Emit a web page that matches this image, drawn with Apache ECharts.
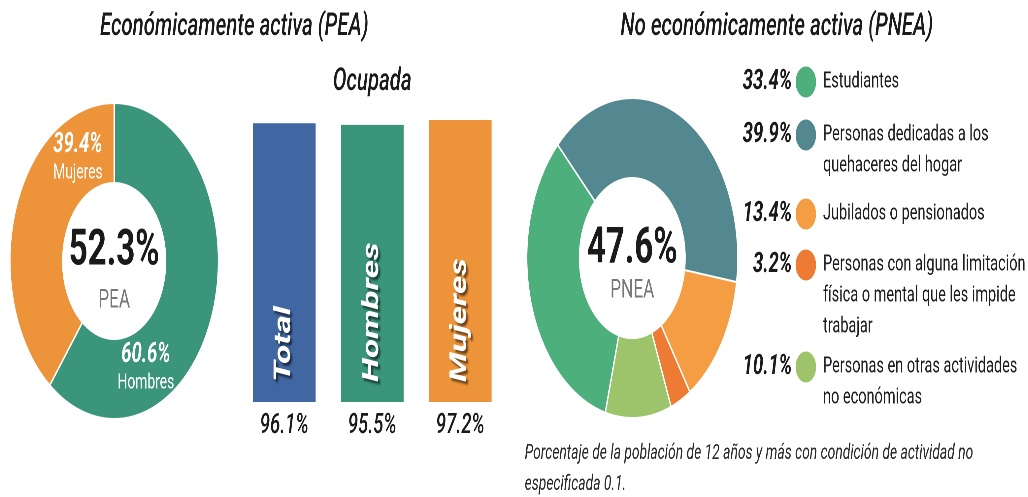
<!DOCTYPE html>
<html>
<head>
<meta charset="utf-8">
<script src="https://cdn.jsdelivr.net/npm/echarts@6/dist/echarts.min.js"></script>
<style>
  html, body { margin: 0; padding: 0; background: #fff; }
  #wrap { width: 1028px; height: 497px; overflow: hidden; }
  /* the original uses a condensed face, so the whole chart is drawn wide and squeezed */
  #chart { width: 1558px; height: 497px; transform: scaleX(0.66); transform-origin: 0 0; }
</style>
</head>
<body>
<div id="wrap"><div id="chart"></div></div>
<script>
// PEA donut
const peaTotal = 52.3;
const peaNames = ["Hombres", "Mujeres"];
const peaValues = [60.6, 39.4];
const peaColors = ["#3b957b", "#ed943a"];

// Ocupada bars
const ocupadaCats = ["Total", "Hombres", "Mujeres"];
const ocupadaValues = [96.1, 95.5, 97.2];
const ocupadaColors = ["#4167a2", "#3b957b", "#ed943a"];

// PNEA donut
const pneaTotal = 47.6;
const pneaNames = [
  "Estudiantes",
  "Personas dedicadas a los\nquehaceres del hogar",
  "Jubilados o pensionados",
  "Personas con alguna limitación\nfísica o mental que les impide\ntrabajar",
  "Personas en otras actividades\nno económicas"
];
const pneaValues = [33.4, 39.9, 13.4, 3.2, 10.1];
const pneaColors = ["#4daf7b", "#548891", "#f49d43", "#ee7b33", "#9dc36b"];

const nota = "Porcentaje de la población de 12 años y más con condición de actividad no\nespecificada 0.1.";

const FONT = "Roboto, 'Liberation Sans', sans-serif";
const peaLabelPos = [[221, 368], [118, 158]];
const legendRowY = [82, 135, 214, 265, 367];

let chart = echarts.init(document.getElementById("chart"), null, { devicePixelRatio: 2 });

let graphics = [
  { type: "text", style: { text: "Económicamente activa (PEA)", x: 355, y: 27, font: "italic 500 31px " + FONT, fill: "#1a1a1a", align: "center", verticalAlign: "middle" } },
  { type: "text", style: { text: "No económicamente activa (PNEA)", x: 1177, y: 27, font: "italic 500 31px " + FONT, fill: "#1a1a1a", align: "center", verticalAlign: "middle" } },
  { type: "text", style: { text: "Ocupada", x: 564, y: 82, font: "italic 500 31px " + FONT, fill: "#1a1a1a", align: "center", verticalAlign: "middle" } },
  { type: "text", style: { text: peaTotal.toFixed(1) + "%", x: 173, y: 252, font: "bold 50px " + FONT, fill: "#1a1a1a", align: "center", verticalAlign: "middle" } },
  { type: "text", style: { text: "PEA", x: 173, y: 301, font: "26px " + FONT, fill: "#777", align: "center", verticalAlign: "middle" } },
  { type: "text", style: { text: pneaTotal.toFixed(1) + "%", x: 958, y: 250, font: "bold 50px " + FONT, fill: "#1a1a1a", align: "center", verticalAlign: "middle" } },
  { type: "text", style: { text: "PNEA", x: 958, y: 291, font: "26px " + FONT, fill: "#777", align: "center", verticalAlign: "middle" } },
  { type: "text", style: { text: nota, x: 795, y: 438, font: "italic 21px " + FONT, lineHeight: 31, fill: "#2a2a2a", align: "left", verticalAlign: "top" } }
];

// legend rows for the PNEA donut
pneaNames.forEach(function (name, i) {
  let y = legendRowY[i];
  graphics.push({ type: "circle", shape: { cx: 1221, cy: y, r: 15.5 }, style: { fill: pneaColors[i] } });
  graphics.push({ type: "text", style: { text: pneaValues[i].toFixed(1) + "%", x: 1200, y: y, font: "italic bold 28px " + FONT, fill: "#1a1a1a", align: "right", verticalAlign: "middle" } });
  graphics.push({ type: "text", style: { text: name, x: 1247, y: y - 15.5, font: "22px " + FONT, lineHeight: 31, fill: "#1e1e1e", align: "left", verticalAlign: "top" } });
});

chart.setOption({
  animation: false,
  grid: { left: 364, top: 120, width: 400, height: 282 },
  xAxis: {
    type: "category",
    data: ocupadaCats,
    axisLine: { show: false },
    axisTick: { show: false },
    axisLabel: {
      interval: 0,
      margin: 10,
      fontFamily: FONT,
      fontSize: 28,
      fontStyle: "italic",
      fontWeight: 500,
      color: "#1a1a1a",
      formatter: function (v, i) { return ocupadaValues[i].toFixed(1) + "%"; }
    }
  },
  yAxis: { type: "value", min: 0, max: "dataMax", show: false },
  graphic: graphics,
  series: [
    {
      type: "pie",
      silent: true,
      center: [173, 261],
      radius: [78, 158],
      startAngle: 90,
      clockwise: true,
      itemStyle: { borderColor: "#fff", borderWidth: 2 },
      data: peaNames.map(function (n, i) {
        return { name: n, value: peaValues[i], itemStyle: { color: peaColors[i] } };
      }),
      label: {
        show: true,
        position: "inside",
        formatter: function (p) { return "{p|" + p.value.toFixed(1) + "%}\n{n|" + p.name + "}"; },
        rich: {
          p: { fontFamily: FONT, fontSize: 28, fontWeight: "bold", fontStyle: "italic", color: "#fff", lineHeight: 30 },
          n: { fontFamily: FONT, fontSize: 21, color: "#fff", lineHeight: 26 }
        }
      },
      labelLine: { show: false },
      labelLayout: function (params) {
        let pos = peaLabelPos[params.dataIndex];
        return { x: pos[0], y: pos[1], align: "center", verticalAlign: "middle" };
      }
    },
    {
      type: "bar",
      silent: true,
      barWidth: 95,
      data: ocupadaValues.map(function (v, i) {
        return { value: v, itemStyle: { color: ocupadaColors[i] } };
      }),
      label: {
        show: true,
        position: "insideBottom",
        rotate: 90,
        align: "left",
        verticalAlign: "middle",
        distance: 20,
        formatter: "{b}",
        fontFamily: FONT,
        fontSize: 35,
        fontWeight: "bold",
        fontStyle: "italic",
        color: "#fff",
        textShadowColor: "rgba(0,0,0,0.55)",
        textShadowBlur: 2,
        textShadowOffsetX: 3,
        textShadowOffsetY: 3
      }
    },
    {
      type: "pie",
      silent: true,
      center: [958, 258],
      radius: [80, 160],
      startAngle: 255.2,
      clockwise: true,
      itemStyle: { borderColor: "#fff", borderWidth: 2 },
      label: { show: false },
      labelLine: { show: false },
      data: pneaNames.map(function (n, i) {
        return { name: n, value: pneaValues[i], itemStyle: { color: pneaColors[i] } };
      })
    }
  ]
});
</script>
</body>
</html>
